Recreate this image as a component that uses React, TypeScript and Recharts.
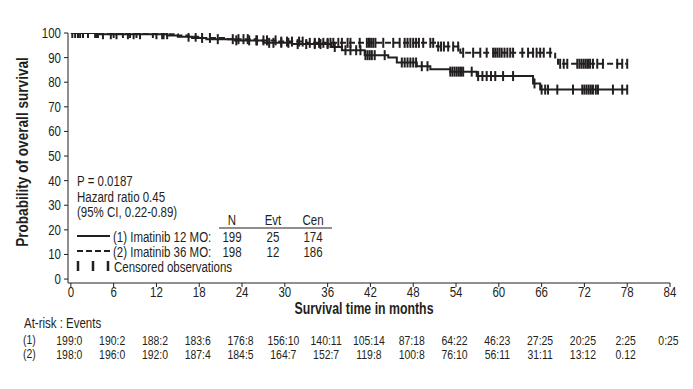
import React from 'react';
import { ComposedChart, Line, Scatter, XAxis, YAxis } from 'recharts';

// ---- style ----
const INK = '#231f20';
const FONT = '"Liberation Sans", Arial, sans-serif';
const SQUEEZE = 0.82; // condensed look of the original typeface
const BOLD_SQUEEZE = 0.77;

// ---- Kaplan-Meier steps, (1) Imatinib 12 MO (solid) ----
const arm1Months = [0, 4, 13.5, 15, 17, 19, 23, 27, 31, 36.5, 38, 41.2, 44.5, 45.7, 48.5, 50.4, 53.2, 56.9, 64.8, 65.8, 78.1];
const arm1Surv = [100, 99.5, 99.0, 98.5, 98.0, 97.5, 97.0, 96.0, 95.5, 94.3, 93.0, 91.0, 90.0, 88.0, 86.5, 85.3, 84.3, 82.5, 79.5, 77.0, 77.0];

// ---- (2) Imatinib 36 MO (dashed) ----
const arm2Months = [0, 13, 15, 16.5, 18, 22, 26, 29, 33, 51.3, 54.6, 67.9, 68.3, 77.9];
const arm2Surv = [100, 99.5, 99.0, 98.5, 98.0, 97.5, 97.0, 96.5, 96.0, 94.5, 92.0, 90.0, 87.5, 87.5];

// ---- censored observations (months) ----
const arm1Censored = [
  0.2, 1.3, 1.7, 3.6, 4.5, 5.6, 6.4, 8.0, 8.8, 9.7, 12.0, 12.8, 16.5, 18.4, 20.6, 23.2, 25.0, 26.0,
  27.8, 28.4, 29.5, 30.5, 31.8, 33.0, 34.2, 35.0, 36.0, 37.0, 38.5, 39.2, 40.0, 40.6, 41.3, 41.6,
  41.9, 42.2, 42.6, 44.0, 46.4, 46.8, 47.2, 47.6, 48.0, 48.4, 49.2, 50.0, 53.2, 53.5, 53.8, 54.1,
  54.4, 54.7, 55.0, 56.2, 57.1, 57.7, 58.3, 58.9, 59.5, 60.6, 62.0, 65.0, 66.0, 66.5, 66.9, 68.2,
  70.4, 71.7, 72.0, 72.3, 72.6, 72.9, 73.2, 73.6, 73.9, 76.0, 77.3, 78.0,
];
const arm2Censored = [
  0.6, 1.0, 2.4, 3.4, 3.8, 6.0, 7.3, 8.3, 9.2, 11.5, 13.0, 13.5, 17.5, 19.5, 22.7, 23.5, 24.2, 24.8,
  26.1, 27.0, 27.5, 28.7, 29.5, 30.3, 31.0, 32.0, 32.5, 33.5, 34.2, 34.8, 35.4, 36.0, 36.4, 36.8,
  37.5, 38.0, 38.8, 39.2, 40.5, 41.5, 41.8, 42.1, 42.4, 42.7, 43.8, 45.2, 46.1, 46.8, 47.2, 47.6,
  48.0, 48.4, 48.8, 49.4, 50.4, 50.8, 51.5, 51.9, 52.3, 52.9, 53.6, 54.3, 55.0, 56.4, 57.4, 58.3,
  59.2, 59.5, 59.8, 60.1, 60.4, 60.8, 61.2, 61.6, 62.0, 63.3, 64.1, 64.8, 65.3, 65.8, 66.3, 67.2,
  68.6, 69.1, 69.6, 71.0, 71.3, 71.6, 71.9, 72.2, 72.5, 72.8, 73.2, 73.8, 74.6, 76.6, 77.3, 78.0,
];

// ---- at-risk table ----
const riskArm1 = ['199:0', '190:2', '188:2', '183:6', '176:8', '156:10', '140:11', '105:14', '87:18', '64:22', '46:23', '27:25', '20:25', '2:25', '0:25'];
const riskArm2 = ['198:0', '196:0', '192:0', '187:4', '184:5', '164:7', '152:7', '119:8', '100:8', '76:10', '56:11', '31:11', '13:12', '0.12'];

const monthTicks = [0, 6, 12, 18, 24, 30, 36, 42, 48, 54, 60, 66, 72, 78, 84];
const survTicks = [0, 10, 20, 30, 40, 50, 60, 70, 80, 90, 100];

const toSteps = (t: number[], s: number[]) => t.map((m, i) => ({ t: m, s: s[i] }));
const survAt = (t: number[], s: number[], m: number) => {
  let v = s[0];
  for (let i = 0; i < t.length; i++) if (t[i] <= m) v = s[i];
  return v;
};
const censorPoints = (c: number[], t: number[], s: number[]) =>
  c.map((m) => ({ t: m, s: survAt(t, s, m) }));

const arm1Steps = toSteps(arm1Months, arm1Surv);
const arm2Steps = toSteps(arm2Months, arm2Surv);
const arm1Marks = censorPoints(arm1Censored, arm1Months, arm1Surv);
const arm2Marks = censorPoints(arm2Censored, arm2Months, arm2Surv);

const CensorTick = (props: any) => {
  const { cx, cy } = props;
  return <line x1={cx} x2={cx} y1={cy - 5} y2={cy + 5} stroke={INK} strokeWidth={2} />;
};

const SvgTxt = ({ x, y, anchor = 'middle', size = 14, sx = SQUEEZE, children }: any) => (
  <text
    transform={`translate(${x},${y}) scale(${sx},1)`}
    textAnchor={anchor}
    fill={INK}
    fontSize={size}
    fontFamily={FONT}
  >
    {children}
  </text>
);

// month label plus the two at-risk rows under it
const MonthTick = (props: any) => {
  const { x, y, payload } = props;
  const i = Math.round(payload.value / 6);
  return (
    <g>
      <SvgTxt x={x} y={y + 9.5}>{payload.value}</SvgTxt>
      {riskArm1[i] && <SvgTxt x={x - 1.5} y={y + 57.5} size={12} sx={0.87}>{riskArm1[i]}</SvgTxt>}
      {riskArm2[i] && <SvgTxt x={x - 1.5} y={y + 71.5} size={12} sx={0.87}>{riskArm2[i]}</SvgTxt>}
    </g>
  );
};

const SurvTick = (props: any) => {
  const { x, y, payload } = props;
  return <SvgTxt x={x} y={y + 5} anchor="end">{payload.value}</SvgTxt>;
};

const Txt = ({ x, y, children, center, size = 14, bold, sx }: any) => {
  const k = sx ?? (bold ? BOLD_SQUEEZE : SQUEEZE);
  return (
    <div
      style={{
        position: 'absolute',
        left: x,
        top: y,
        transform: center ? `translate(-50%, -50%) scaleX(${k})` : `translateY(-50%) scaleX(${k})`,
        transformOrigin: center ? '50% 50%' : '0 50%',
        fontFamily: FONT,
        fontSize: size,
        fontWeight: bold ? 700 : 400,
        color: INK,
        whiteSpace: 'nowrap',
        lineHeight: 1,
      }}
    >
      {children}
    </div>
  );
};

export default function App() {
  return (
    <div style={{ position: 'absolute', left: 0, top: 0, width: 693, height: 389, background: '#fff' }}>
      <ComposedChart width={693} height={389} margin={{ top: 33, right: 23, bottom: 66, left: 0 }}>
        <XAxis
          type="number"
          dataKey="t"
          domain={[-0.4, 84]}
          ticks={monthTicks}
          tick={MonthTick}
          tickSize={4}
          tickMargin={0}
          height={40}
          interval={0}
          stroke={INK}
          allowDataOverflow
        />
        <YAxis
          type="number"
          dataKey="s"
          domain={[-1.6, 100]}
          ticks={survTicks}
          tick={SurvTick}
          tickSize={4}
          tickMargin={3}
          width={68}
          stroke={INK}
          interval={0}
          allowDataOverflow
        />
        <Line data={arm1Steps} dataKey="s" type="stepAfter" stroke={INK} strokeWidth={2} dot={false} isAnimationActive={false} />
        <Line data={arm2Steps} dataKey="s" type="stepAfter" stroke={INK} strokeWidth={2} strokeDasharray="6 3" dot={false} isAnimationActive={false} />
        <Scatter data={arm1Marks} dataKey="s" shape={CensorTick} isAnimationActive={false} />
        <Scatter data={arm2Marks} dataKey="s" shape={CensorTick} isAnimationActive={false} />
      </ComposedChart>

      {/* axis titles */}
      <div
        style={{
          position: 'absolute', left: 22, top: 152,
          transform: 'translate(-50%, -50%) rotate(-90deg) scaleX(0.8)',
          fontFamily: FONT, fontSize: 17, fontWeight: 700, color: INK, whiteSpace: 'nowrap', lineHeight: 1,
        }}
      >
        Probability of overall survival
      </div>
      <Txt x={364} y={309} center size={16} bold>Survival time in months</Txt>

      {/* at-risk header */}
      <Txt x={24} y={323}>At-risk : Events</Txt>
      <Txt x={23} y={340} size={12} sx={0.87}>(1)</Txt>
      <Txt x={23} y={354} size={12} sx={0.87}>(2)</Txt>

      {/* legend box */}
      <Txt x={77} y={181}>P = 0.0187</Txt>
      <Txt x={77} y={197}>Hazard ratio 0.45</Txt>
      <Txt x={77} y={212}>(95% CI, 0.22-0.89)</Txt>
      <Txt x={232} y={220} center>N</Txt>
      <Txt x={273} y={220} center>Evt</Txt>
      <Txt x={313} y={220} center>Cen</Txt>
      <Txt x={113} y={236.5}>(1) Imatinib 12 MO:</Txt>
      <Txt x={232} y={236.5} center>199</Txt>
      <Txt x={273} y={236.5} center>25</Txt>
      <Txt x={313} y={236.5} center>174</Txt>
      <Txt x={113} y={251.5}>(2) Imatinib 36 MO:</Txt>
      <Txt x={232} y={251.5} center>198</Txt>
      <Txt x={273} y={251.5} center>12</Txt>
      <Txt x={313} y={251.5} center>186</Txt>
      <Txt x={114} y={266.5}>Censored observations</Txt>
      <svg width={693} height={389} style={{ position: 'absolute', left: 0, top: 0, pointerEvents: 'none' }}>
        <line x1={219} x2={332} y1={228} y2={228} stroke={INK} strokeWidth={1.2} />
        <line x1={77} x2={110} y1={236} y2={236} stroke={INK} strokeWidth={2} />
        <line x1={77} x2={110} y1={251} y2={251} stroke={INK} strokeWidth={2} strokeDasharray="6 3" />
        <line x1={78} x2={78} y1={261} y2={271} stroke={INK} strokeWidth={2.5} />
        <line x1={93} x2={93} y1={261} y2={271} stroke={INK} strokeWidth={2.5} />
        <line x1={108} x2={108} y1={261} y2={271} stroke={INK} strokeWidth={2.5} />
      </svg>
    </div>
  );
}
